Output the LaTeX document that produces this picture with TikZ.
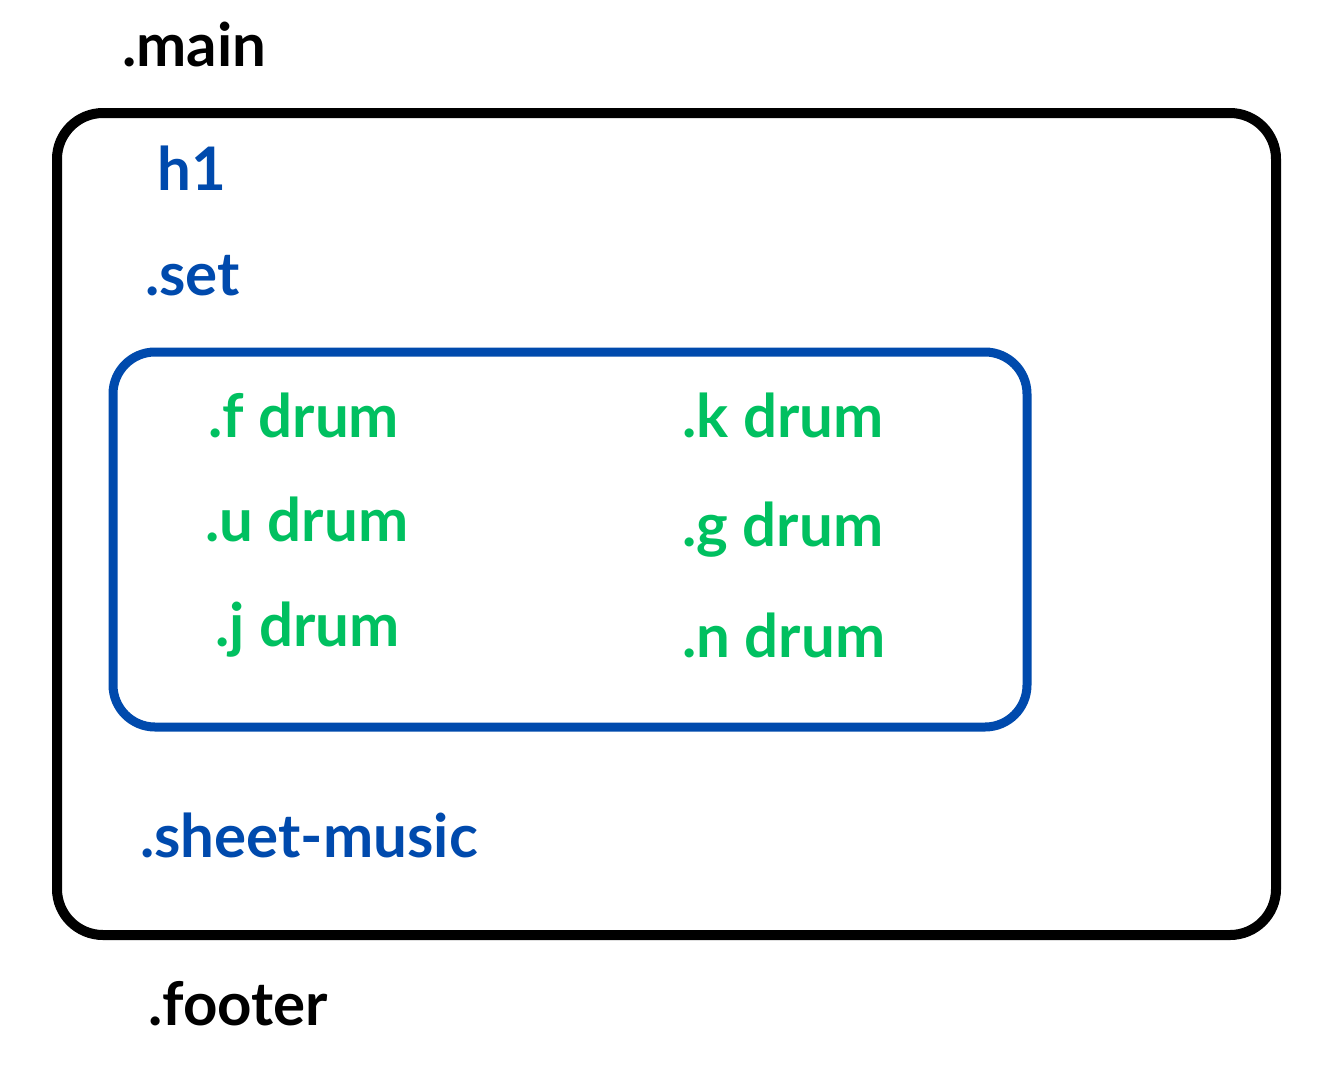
\documentclass[tikz,border=0pt]{standalone}
\usepackage{fontspec}
\setmainfont{Lato}[UprightFont=* Bold]
\definecolor{cblue}{HTML}{004AAD}
\definecolor{cgreen}{HTML}{00C060}
\begin{document}
\begin{tikzpicture}[x=1pt,y=-1pt,
  lbl/.style={anchor=base west,inner sep=0pt,font=\fontsize{60}{62}\selectfont},
  blk/.style={lbl,text=black},
  blu/.style={lbl,text=cblue},
  grn/.style={lbl,text=cgreen},
  box/.style={rounded corners=46pt,line width=10pt}]
\useasboundingbox[fill=white] (0,0) rectangle (1319,1080);
\draw[box,draw=black] (57,113) rectangle (1276,935);
\draw[box,draw=cblue,line width=9pt,rounded corners=42pt] (113,352) rectangle (1027,727);
\node[blk] (main) at (122,66) {.main};
\node[blu] (h1) at (157,190) {h1};
\node[blu] (set) at (145,295) {.set};
\node[grn] (f) at (208,437) {.f drum};
\node[grn] (u) at (205,541) {.u drum};
\node[grn] (j) at (215,646) {.j drum};
\node[grn] (k) at (682,437) {.k drum};
\node[grn] (g) at (682,546) {.g drum};
\node[grn] (n) at (682,657) {.n drum};
\node[blu] (sheet) at (140,857) {.sheet-music};
\node[blk] (footer) at (148,1025) {.footer};
\end{tikzpicture}
\end{document}
